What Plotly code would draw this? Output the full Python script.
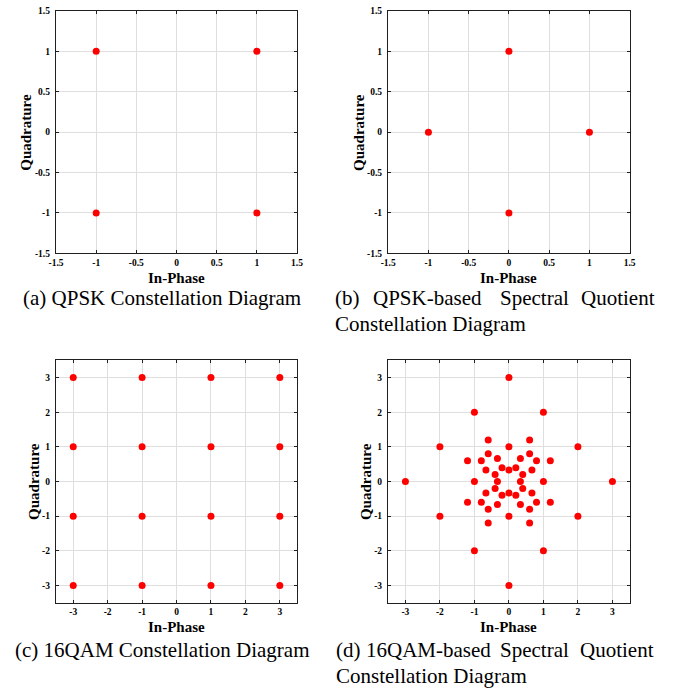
import plotly.graph_objects as go

W, H = 693, 690

# ---- data ----
qpsk_i = [-1, 1, -1, 1]
qpsk_q = [1, 1, -1, -1]

qpsk_sq_i = [0, -1, 1, 0]
qpsk_sq_q = [1, 0, 0, -1]

qam16_i = [-3, -1, 1, 3, -3, -1, 1, 3, -3, -1, 1, 3, -3, -1, 1, 3]
qam16_q = [3, 3, 3, 3, 1, 1, 1, 1, -1, -1, -1, -1, -3, -3, -3, -3]

qam16_sq_i = [0, -1, 1, -2, 2, -3, 3, -2, 2, -1, 1, 0,
              -0.6, 0.6, 0, 0, -1, 1,
              -0.6, 0.6, -1.2, 1.2, -0.8, 0.8, -0.333, 0.333,
              -0.2, 0.2, 0, -0.667, 0.667, -0.4, 0.4, -0.333, 0.333,
              -0.4, 0.4, -0.667, 0.667, 0, -0.2, 0.2,
              -0.8, 0.8, -1.2, 1.2, -0.333, 0.333, -0.6, 0.6, -0.6, 0.6]
qam16_sq_q = [3, 2, 2, 1, 1, 0, 0, -1, -1, -2, -2, -3,
              1.2, 1.2, 1, -1, 0, 0,
              0.8, 0.8, 0.6, 0.6, 0.6, 0.6, 0.667, 0.667,
              0.4, 0.4, 0.333, 0.333, 0.333, 0.2, 0.2, 0, 0,
              -0.2, -0.2, -0.333, -0.333, -0.333, -0.4, -0.4,
              -0.6, -0.6, -0.6, -0.6, -0.667, -0.667, -0.8, -0.8, -1.2, -1.2]

ticks_small = [-1.5, -1, -0.5, 0, 0.5, 1, 1.5]
ticks_small_txt = ["-1.5", "-1", "-0.5", "0", "0.5", "1", "1.5"]
ticks_big = [-3, -2, -1, 0, 1, 2, 3]
ticks_big_txt = ["-3", "-2", "-1", "0", "1", "2", "3"]

# ---- layout geometry (pixels) ----
panels = [
    dict(x=(49, 295), y=(6, 252), rng=1.5, ticks=ticks_small, txt=ticks_small_txt,
         xi=qpsk_i, yq=qpsk_q, ylab_x=19),
    dict(x=(388, 634.5), y=(6, 252), rng=1.5, ticks=ticks_small, txt=ticks_small_txt,
         xi=qpsk_sq_i, yq=qpsk_sq_q, ylab_x=358),
    dict(x=(49, 295), y=(360.5, 606.5), rng=3.5, ticks=ticks_big, txt=ticks_big_txt,
         xi=qam16_i, yq=qam16_q, ylab_x=27),
    dict(x=(388, 634.5), y=(360.5, 606.5), rng=3.5, ticks=ticks_big, txt=ticks_big_txt,
         xi=qam16_sq_i, yq=qam16_sq_q, ylab_x=366),
]

fig = go.Figure()
layout = dict(width=W, height=H, margin=dict(l=0, r=0, t=0, b=0),
              paper_bgcolor="white", plot_bgcolor="white", showlegend=False)

tickfont = dict(family="Liberation Serif", size=9.5, color="black", weight="bold")
labfont = dict(family="Liberation Serif", size=15, color="black", weight="bold")
capfont = dict(family="Liberation Serif", size=21, color="black")

annotations = []
for k, p in enumerate(panels):
    n = "" if k == 0 else str(k + 1)
    xa, ya = "x" + n, "y" + n
    fig.add_trace(go.Scatter(x=p["xi"], y=p["yq"], mode="markers", xaxis=xa, yaxis=ya,
                             marker=dict(color="#ff0000", size=7, line=dict(width=0)),
                             hoverinfo="skip"))
    common = dict(range=[-p["rng"], p["rng"]], tickvals=p["ticks"], ticktext=p["txt"],
                  showgrid=True, gridcolor="#dedede", gridwidth=1.2, zeroline=False,
                  showline=True, linecolor="#202020", linewidth=1.3, mirror="ticks",
                  ticks="inside", ticklen=3, tickcolor="#202020", tickwidth=1,
                  tickfont=tickfont, fixedrange=True)
    layout["xaxis" + n] = dict(common, domain=[p["x"][0] / W, p["x"][1] / W],
                               anchor=ya, ticklabelstandoff=0)
    layout["yaxis" + n] = dict(common, domain=[1 - p["y"][1] / H, 1 - p["y"][0] / H],
                               anchor=xa, ticklabelstandoff=3)
    cx = (p["x"][0] + p["x"][1]) / 2
    ty = p["y"][1] + 25
    annotations.append(dict(text="In-Phase", x=cx / W, y=1 - ty / H, xref="paper", yref="paper",
                            xanchor="center", yanchor="middle", showarrow=False, font=labfont))
    cy = (p["y"][0] + p["y"][1]) / 2
    annotations.append(dict(text="Quadrature", x=p["ylab_x"] / W, y=1 - cy / H, xref="paper",
                            yref="paper", xanchor="center", yanchor="middle", textangle=-90,
                            showarrow=False, font=labfont))

def cap(text, x, y, anchor="left"):
    annotations.append(dict(text=text, x=x / W, y=1 - y / H, xref="paper", yref="paper",
                            xanchor=anchor, yanchor="middle", showarrow=False, font=capfont))

cap("(a) QPSK Constellation Diagram", 13, 297)
cap("(b)", 332, 297)
cap("QPSK-based", 370, 297)
cap("Spectral", 500, 297)
cap("Quotient", 662, 297, "right")
cap("Constellation Diagram", 332, 324)

cap("(c) 16QAM Constellation Diagram", 5, 654)
cap("(d)", 333, 654)
cap("16QAM-based", 363, 654)
cap("Spectral", 500, 654)
cap("Quotient", 661, 654, "right")
cap("Constellation Diagram", 333, 681)

layout["annotations"] = annotations
fig.update_layout(**layout)
fig.write_html("out.html")
